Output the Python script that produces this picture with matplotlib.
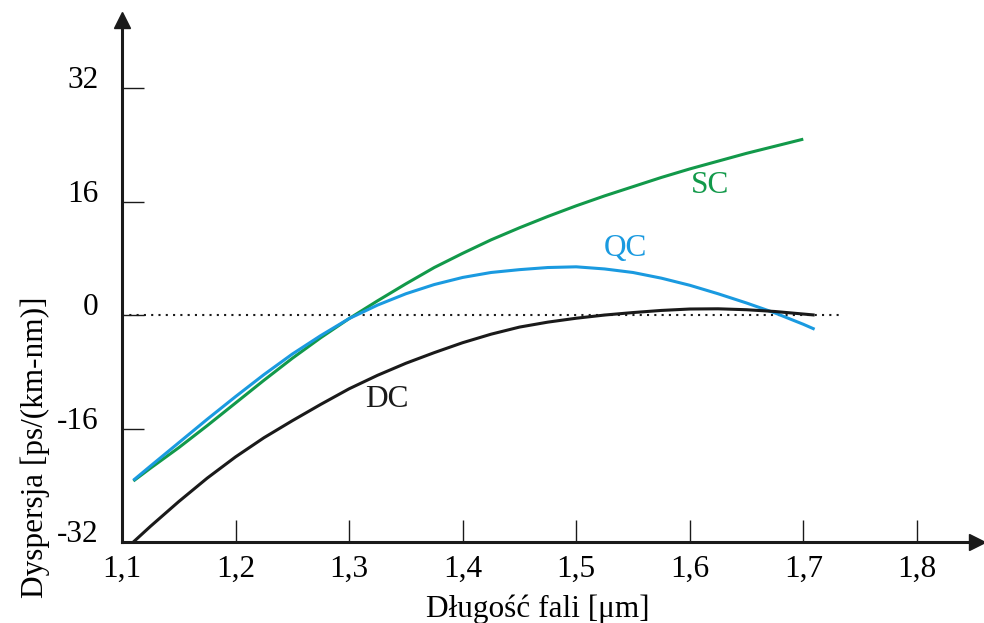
import matplotlib.pyplot as plt
import numpy as np

plt.rcParams['font.family'] = ['Liberation Serif', 'DejaVu Serif']

# wavelength [um] and dispersion [ps/(km-nm)] for the three fibre types
wl_sc = [1.11, 1.125, 1.15, 1.175, 1.2, 1.225, 1.25, 1.275, 1.3, 1.325, 1.35,
         1.375, 1.4, 1.425, 1.45, 1.475, 1.5, 1.525, 1.55, 1.575, 1.6, 1.625,
         1.65, 1.675, 1.7]
d_sc = [-23.4, -21.6, -18.7, -15.6, -12.4, -9.2, -6.1, -3.2, -0.5, 2.0, 4.4,
        6.7, 8.7, 10.6, 12.3, 13.9, 15.4, 16.8, 18.1, 19.4, 20.6, 21.7,
        22.8, 23.8, 24.8]

wl_qc = [1.11, 1.125, 1.15, 1.175, 1.2, 1.225, 1.25, 1.275, 1.3, 1.325, 1.35,
         1.375, 1.4, 1.425, 1.45, 1.475, 1.5, 1.525, 1.55, 1.575, 1.6, 1.625,
         1.65, 1.675, 1.7, 1.71]
d_qc = [-23.3, -21.3, -18.0, -14.7, -11.5, -8.4, -5.5, -2.9, -0.5, 1.4, 3.0,
        4.3, 5.3, 6.0, 6.4, 6.7, 6.8, 6.5, 6.0, 5.2, 4.2, 3.0,
        1.7, 0.3, -1.3, -2.0]

wl_dc = [1.11, 1.125, 1.15, 1.175, 1.2, 1.225, 1.25, 1.275, 1.3, 1.325, 1.35,
         1.375, 1.4, 1.425, 1.45, 1.475, 1.5, 1.525, 1.55, 1.575, 1.6, 1.625,
         1.65, 1.675, 1.71]
d_dc = [-32.0, -29.8, -26.3, -23.0, -20.0, -17.3, -14.9, -12.6, -10.4, -8.5, -6.8,
        -5.3, -3.9, -2.7, -1.7, -1.0, -0.45, 0.0, 0.35, 0.65, 0.85, 0.88,
        0.75, 0.5, 0.0]

x_ticks = [1.1, 1.2, 1.3, 1.4, 1.5, 1.6, 1.7, 1.8]
x_labels = ['1,1', '1,2', '1,3', '1,4', '1,5', '1,6', '1,7', '1,8']
y_ticks = [-32, -16, 0, 16, 32]

green = '#12994a'
blue = '#1a9ae0'
black = '#1a1a1a'
fs = 22.5

fig = plt.figure(figsize=(9.84, 6.23), dpi=100)
ax = fig.add_axes([122 / 984, 81 / 623, 855 / 984, 522 / 623])
ax.set_xlim(1.1, 1.853)
ax.set_ylim(-32, 41.6)

ax.plot([1.1, 1.732], [0, 0], color=black, lw=1.5, ls=(0, (1, 2.5)))
ax.plot(wl_sc, d_sc, color=green, lw=2.2, solid_capstyle='butt', solid_joinstyle='round')
ax.plot(wl_qc, d_qc, color=blue, lw=2.2, solid_capstyle='butt', solid_joinstyle='round')
ax.plot(wl_dc, d_dc, color=black, lw=2.2, solid_capstyle='butt', solid_joinstyle='round')

ax.text(1.618, 17.2, 'SC', color=green, fontsize=fs, ha='center', va='baseline')
ax.text(1.543, 8.3, 'QC', color=blue, fontsize=fs, ha='center', va='baseline')
ax.text(1.333, -13.0, 'DC', color=black, fontsize=fs, ha='center', va='baseline')

for side in ['top', 'right']:
    ax.spines[side].set_visible(False)
for side in ['left', 'bottom']:
    ax.spines[side].set_linewidth(2.2)
    ax.spines[side].set_color(black)

# arrow heads on the axes
ax.plot(1, 0, marker='>', ms=11, color=black, transform=ax.transAxes, clip_on=False)
ax.plot(0, 1, marker='^', ms=11, color=black, transform=ax.transAxes, clip_on=False)

ax.set_xticks(x_ticks)
ax.set_xticklabels(x_labels)
ax.set_yticks(y_ticks)
ax.set_yticklabels([str(v) for v in y_ticks])
ax.tick_params(axis='x', direction='in', length=16, width=1, color=black,
               labelsize=fs, pad=9)
ax.tick_params(axis='y', direction='in', length=16, width=1, color=black,
               labelsize=fs, pad=17)
for lab in ax.get_yticklabels():
    lab.set_va('baseline')

fig.text(538 / 984, 6 / 623, 'Długość fali [μm]', fontsize=fs,
         ha='center', va='baseline')
fig.text(35 / 984, 1 - 296.5 / 623, 'Dyspersja [ps/(km-nm)]', fontsize=fs,
         rotation=90, ha='right', va='center', rotation_mode='anchor')

fig.savefig('out.png', dpi=100)
